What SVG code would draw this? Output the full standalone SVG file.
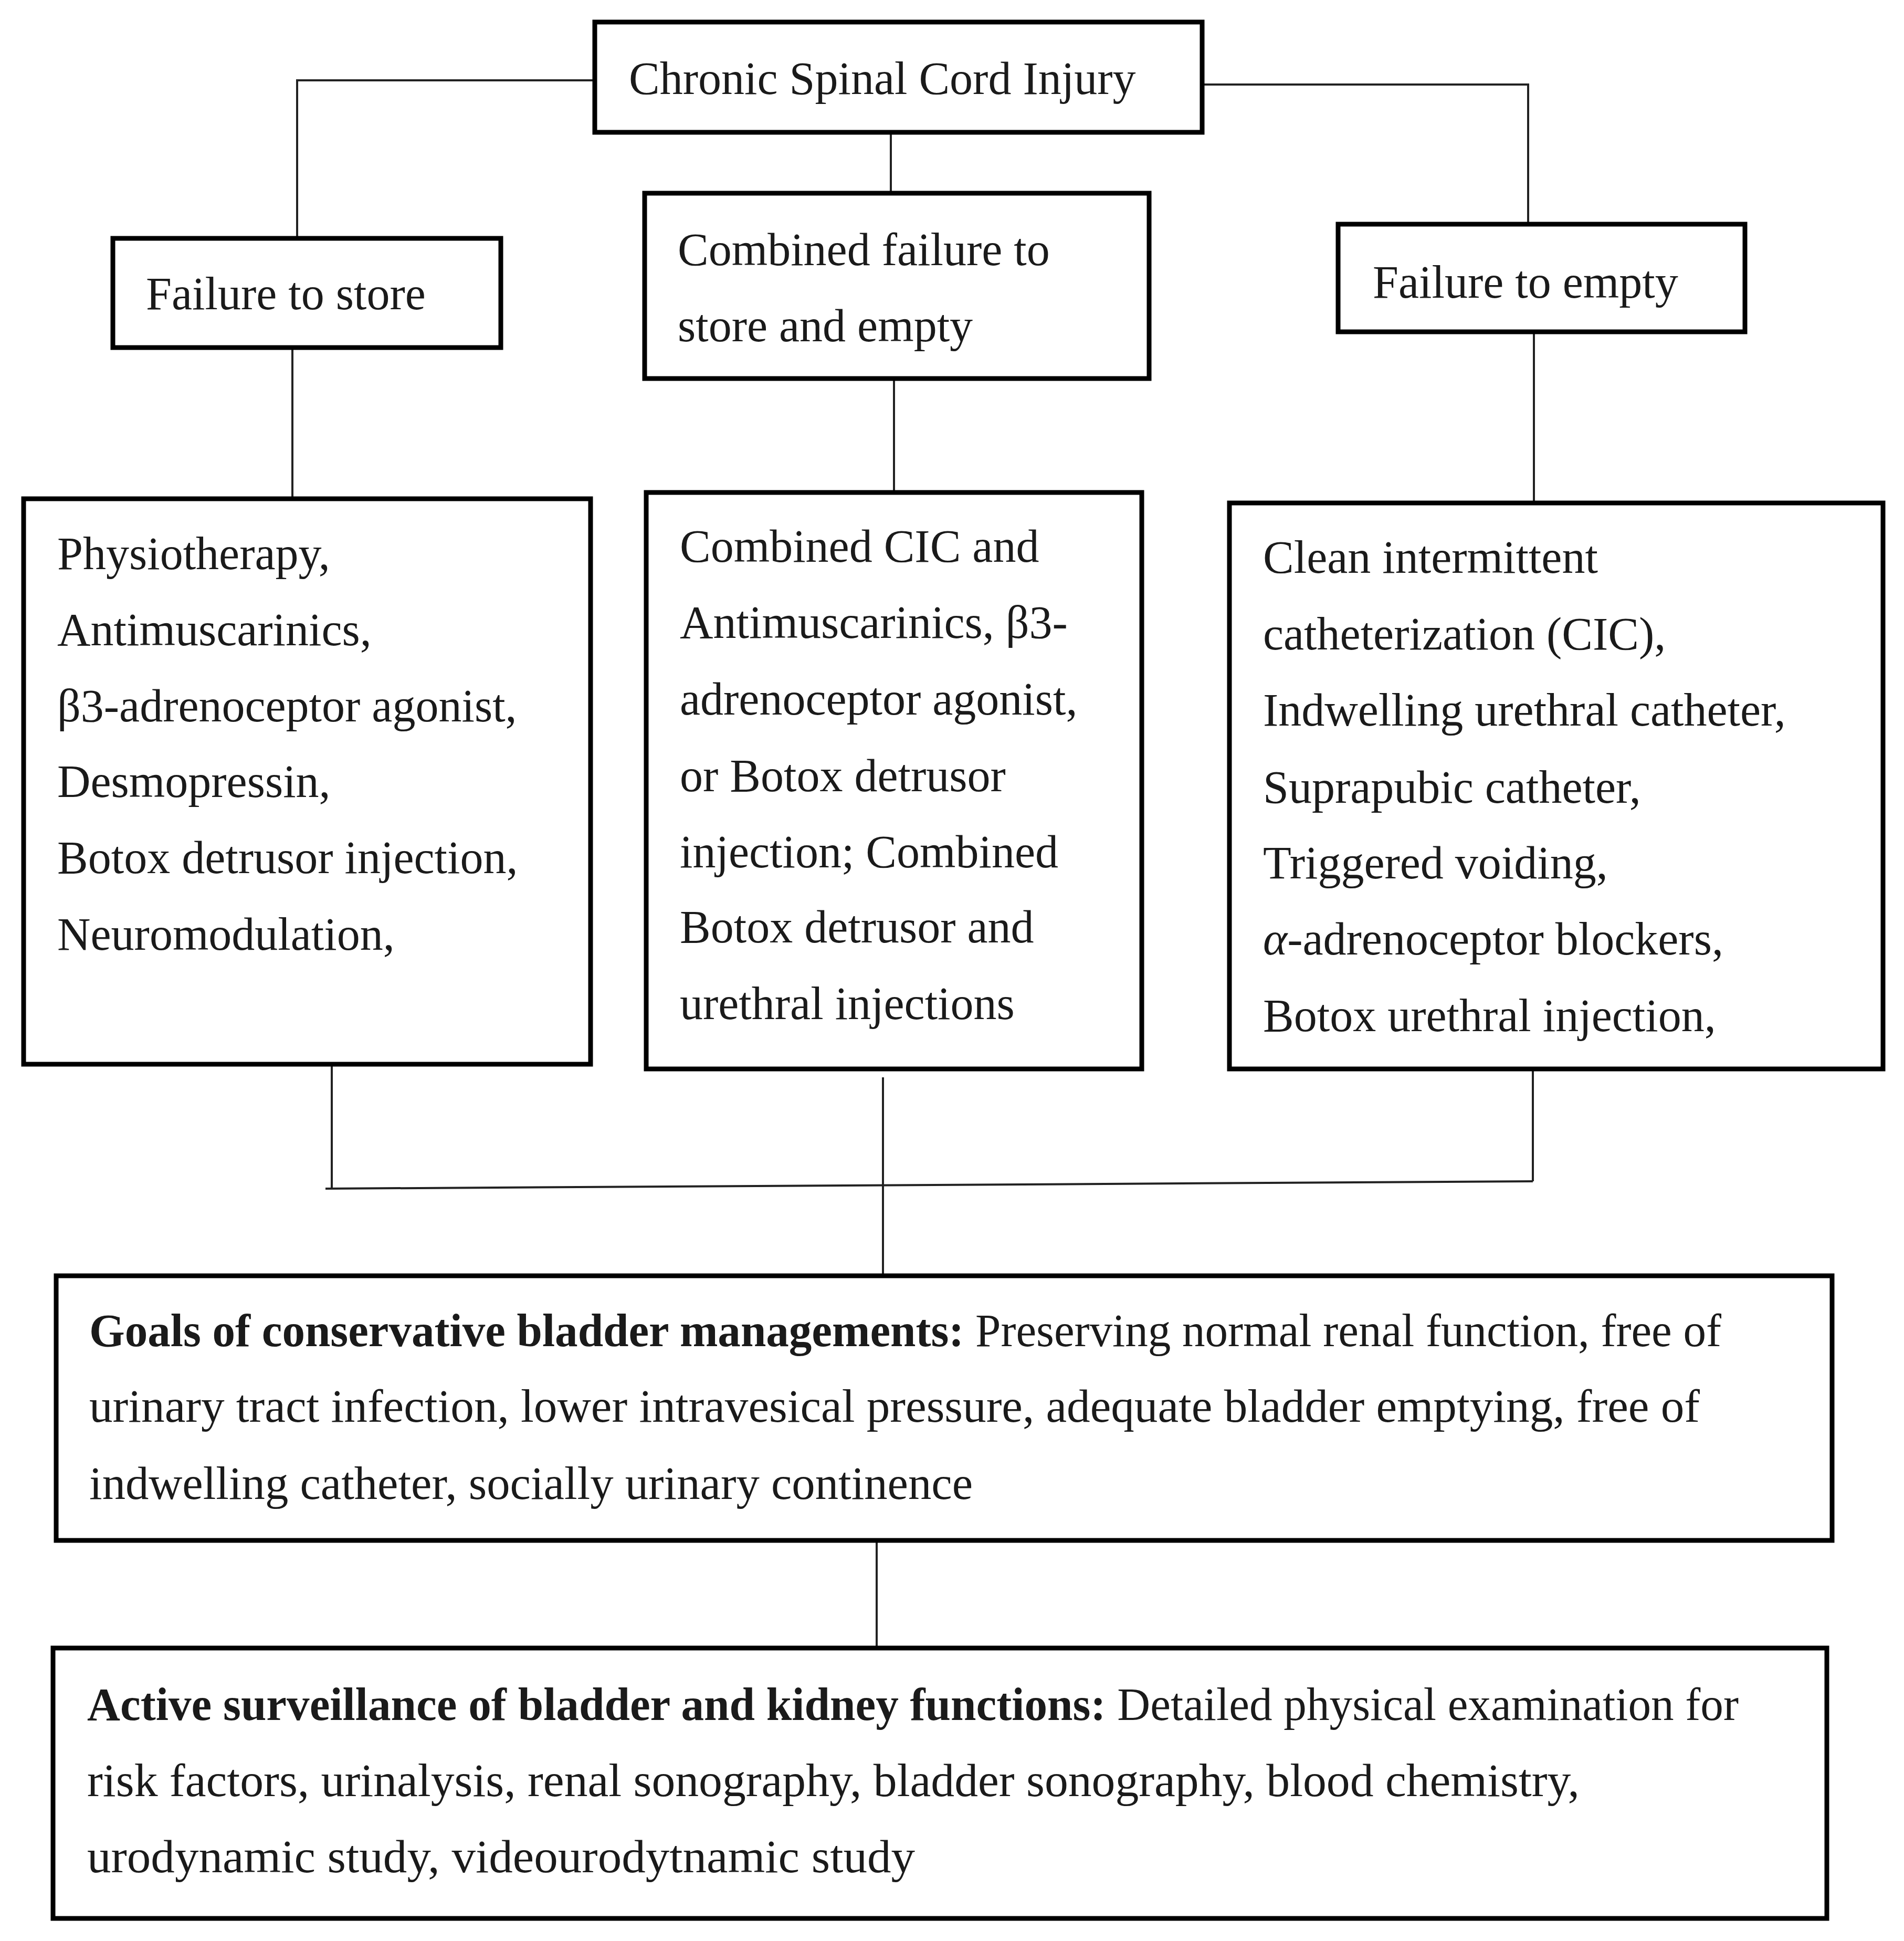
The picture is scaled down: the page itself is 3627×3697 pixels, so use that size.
<svg xmlns="http://www.w3.org/2000/svg" width="3627" height="3697" viewBox="0 0 3627 3697">
<style>
.box{fill:#ffffff;stroke:#000000;stroke-width:9}
.con{fill:none;stroke:#222222;stroke-width:4}
text{font-family:"Liberation Serif","Times New Roman",serif;font-size:88px;fill:#1a1a1a}
.b{font-weight:bold}
.i{font-style:italic}
</style>
<rect width="3627" height="3697" fill="#ffffff"/>
<g id="connectors">
<path class="con" d="M1129,153 H566 V450"/>
<path class="con" d="M1697,256 V364"/>
<path class="con" d="M2294,161 H2911 V423"/>
<path class="con" d="M557,666 V946"/>
<path class="con" d="M1703,725 V934"/>
<path class="con" d="M2922,636 V954"/>
<path class="con" d="M632,2031 V2264"/>
<path class="con" d="M2920,2040 V2250"/>
<path class="con" d="M620,2264 L2920,2250"/>
<path class="con" d="M1682,2052 V2426"/>
<path class="con" d="M1670,2938 V3135"/>
</g>
<g id="node-sci">
<rect class="box" x="1133" y="42" width="1157" height="210"/>
<text x="1198" y="179">Chronic Spinal Cord Injury</text>
</g>
<g id="node-store">
<rect class="box" x="215" y="454" width="739" height="208"/>
<text x="278" y="589">Failure to store</text>
</g>
<g id="node-combined">
<rect class="box" x="1228" y="368" width="961" height="353"/>
<text x="1291" y="505">Combined failure to</text>
<text x="1291" y="650">store and empty</text>
</g>
<g id="node-empty">
<rect class="box" x="2549" y="427" width="775" height="205"/>
<text x="2615" y="567">Failure to empty</text>
</g>
<g id="node-store-tx">
<rect class="box" x="45" y="950" width="1080" height="1077"/>
<text x="109" y="1084">Physiotherapy,</text>
<text x="109" y="1229">Antimuscarinics,</text>
<text x="109" y="1374">β3-adrenoceptor agonist,</text>
<text x="109" y="1518">Desmopressin,</text>
<text x="109" y="1663">Botox detrusor injection,</text>
<text x="109" y="1809">Neuromodulation,</text>
</g>
<g id="node-combined-tx">
<rect class="box" x="1231" y="938" width="944" height="1098"/>
<text x="1295" y="1070">Combined CIC and</text>
<text x="1295" y="1215">Antimuscarinics, β3-</text>
<text x="1295" y="1361">adrenoceptor agonist,</text>
<text x="1295" y="1507">or Botox detrusor</text>
<text x="1295" y="1652">injection; Combined</text>
<text x="1295" y="1795">Botox detrusor and</text>
<text x="1295" y="1941">urethral injections</text>
</g>
<g id="node-empty-tx">
<rect class="box" x="2342" y="958" width="1245" height="1078"/>
<text x="2406" y="1091">Clean intermittent</text>
<text x="2406" y="1237">catheterization (CIC),</text>
<text x="2406" y="1382">Indwelling urethral catheter,</text>
<text x="2406" y="1529">Suprapubic catheter,</text>
<text x="2406" y="1673">Triggered voiding,</text>
<text x="2406" y="1818"><tspan class="i">α</tspan>-adrenoceptor blockers,</text>
<text x="2406" y="1964">Botox urethral injection,</text>
</g>
<g id="node-goals">
<rect class="box" x="107" y="2430" width="3383" height="504"/>
<text x="170" y="2564" textLength="3109" lengthAdjust="spacingAndGlyphs"><tspan class="b">Goals of conservative bladder managements:</tspan> Preserving normal renal function, free of</text>
<text x="170" y="2708" textLength="3068" lengthAdjust="spacingAndGlyphs">urinary tract infection, lower intravesical pressure, adequate bladder emptying, free of</text>
<text x="170" y="2855" textLength="1683" lengthAdjust="spacingAndGlyphs">indwelling catheter, socially urinary continence</text>
</g>
<g id="node-surveillance">
<rect class="box" x="101" y="3139" width="3379" height="515"/>
<text x="166" y="3276" textLength="3146" lengthAdjust="spacingAndGlyphs"><tspan class="b">Active surveillance of bladder and kidney functions:</tspan> Detailed physical examination for</text>
<text x="166" y="3421" textLength="2843" lengthAdjust="spacingAndGlyphs">risk factors, urinalysis, renal sonography, bladder sonography, blood chemistry,</text>
<text x="166" y="3566" textLength="1577" lengthAdjust="spacingAndGlyphs">urodynamic study, videourodytnamic study</text>
</g>
</svg>
